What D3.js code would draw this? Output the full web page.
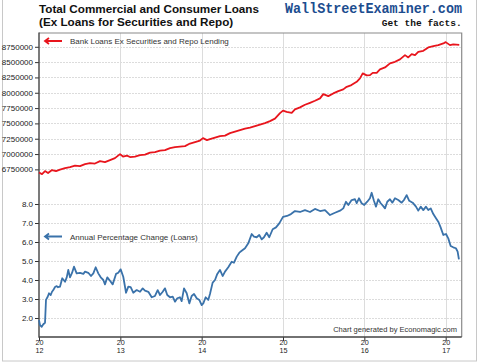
<!DOCTYPE html>
<html>
<head>
<meta charset="utf-8">
<script src="https://cdn.jsdelivr.net/npm/d3@7"></script>
<style>
  body { margin: 0; background: #fff; }
  svg { display: block; font-family: "Liberation Sans", Arial, sans-serif; }
</style>
</head>
<body>
<div id="chart"></div>
<script>
// loans, weekly-ish readings (decimal year, dollars in millions)
const loanYears = [2012.000, 2012.037, 2012.074, 2012.111, 2012.160, 2012.209, 2012.258, 2012.320, 2012.381, 2012.443,
  2012.504, 2012.566, 2012.627, 2012.688, 2012.750, 2012.811, 2012.873, 2012.934, 2012.996, 2013.033,
  2013.082, 2013.119, 2013.180, 2013.242, 2013.303, 2013.365, 2013.426, 2013.488, 2013.549, 2013.611,
  2013.672, 2013.733, 2013.795, 2013.856, 2013.918, 2013.979, 2014.016, 2014.065, 2014.102, 2014.164,
  2014.225, 2014.287, 2014.348, 2014.410, 2014.471, 2014.533, 2014.594, 2014.656, 2014.717, 2014.778,
  2014.840, 2014.901, 2014.963, 2015.000, 2015.045, 2015.107, 2015.147, 2015.209, 2015.270, 2015.332,
  2015.393, 2015.455, 2015.495, 2015.557, 2015.618, 2015.680, 2015.741, 2015.783, 2015.841, 2015.906,
  2015.946, 2015.980, 2016.029, 2016.069, 2016.103, 2016.152, 2016.192, 2016.254, 2016.315, 2016.377,
  2016.438, 2016.500, 2016.540, 2016.582, 2016.623, 2016.663, 2016.725, 2016.786, 2016.848, 2016.909,
  2016.971, 2017.000, 2017.053, 2017.093, 2017.167]
const loanValues = [6698000, 6673000, 6722000, 6690000, 6739000, 6722000, 6747000, 6771000, 6788000, 6812000,
  6804000, 6836000, 6853000, 6845000, 6885000, 6869000, 6902000, 6934000, 6999000, 6959000,
  6975000, 6951000, 6959000, 6983000, 6991000, 7024000, 7032000, 7057000, 7065000, 7097000,
  7114000, 7122000, 7130000, 7171000, 7195000, 7220000, 7260000, 7228000, 7244000, 7269000,
  7293000, 7301000, 7342000, 7366000, 7391000, 7415000, 7432000, 7456000, 7481000, 7505000,
  7538000, 7578000, 7668000, 7709000, 7689000, 7673000, 7728000, 7761000, 7804000, 7836000,
  7869000, 7908000, 7978000, 7945000, 7989000, 8027000, 8055000, 8097000, 8125000, 8179000,
  8234000, 8316000, 8283000, 8288000, 8325000, 8325000, 8381000, 8413000, 8479000, 8505000,
  8544000, 8614000, 8577000, 8630000, 8614000, 8668000, 8684000, 8740000, 8761000, 8777000,
  8805000, 8826000, 8777000, 8788000, 8782000]

// annual % change
const pctYears = [2012.000, 2012.012, 2012.033, 2012.053, 2012.074, 2012.086, 2012.107, 2012.123, 2012.144, 2012.160,
  2012.176, 2012.197, 2012.218, 2012.234, 2012.258, 2012.286, 2012.320, 2012.341, 2012.360, 2012.381,
  2012.406, 2012.430, 2012.463, 2012.504, 2012.545, 2012.566, 2012.606, 2012.639, 2012.668, 2012.697,
  2012.729, 2012.759, 2012.791, 2012.811, 2012.840, 2012.873, 2012.906, 2012.947, 2012.975, 2013.004,
  2013.036, 2013.070, 2013.098, 2013.127, 2013.159, 2013.201, 2013.242, 2013.275, 2013.303, 2013.344,
  2013.386, 2013.426, 2013.459, 2013.488, 2013.521, 2013.549, 2013.577, 2013.611, 2013.644, 2013.672,
  2013.700, 2013.733, 2013.754, 2013.783, 2013.816, 2013.848, 2013.877, 2013.906, 2013.939, 2013.971,
  2014.000, 2014.020, 2014.049, 2014.081, 2014.102, 2014.135, 2014.164, 2014.192, 2014.225, 2014.258,
  2014.287, 2014.327, 2014.369, 2014.397, 2014.431, 2014.463, 2014.492, 2014.533, 2014.573, 2014.615,
  2014.643, 2014.676, 2014.708, 2014.738, 2014.766, 2014.799, 2014.831, 2014.873, 2014.914, 2014.954,
  2015.000, 2015.049, 2015.098, 2015.147, 2015.209, 2015.270, 2015.332, 2015.393, 2015.455, 2015.516,
  2015.578, 2015.639, 2015.701, 2015.741, 2015.774, 2015.803, 2015.844, 2015.885, 2015.906, 2015.934,
  2015.967, 2015.999, 2016.036, 2016.069, 2016.090, 2016.118, 2016.143, 2016.171, 2016.201, 2016.233,
  2016.254, 2016.282, 2016.315, 2016.344, 2016.377, 2016.417, 2016.459, 2016.487, 2016.520, 2016.552,
  2016.594, 2016.635, 2016.663, 2016.693, 2016.725, 2016.758, 2016.786, 2016.816, 2016.848, 2016.881,
  2016.909, 2016.938, 2016.971, 2017.004, 2017.032, 2017.061, 2017.093, 2017.126, 2017.147, 2017.163]
const pctValues = [1.89, 1.63, 1.54, 1.67, 1.75, 2.95, 3.12, 3.30, 3.21, 3.38,
  3.47, 3.63, 3.68, 3.62, 3.65, 4.09, 3.91, 4.14, 4.53, 4.14,
  4.37, 4.70, 4.35, 4.38, 4.32, 4.44, 4.38, 4.21, 4.35, 4.67,
  4.35, 4.14, 4.00, 3.77, 4.14, 3.96, 3.77, 4.32, 4.38, 4.56,
  4.17, 3.33, 3.65, 3.62, 3.33, 3.47, 3.38, 3.56, 3.44, 3.38,
  3.09, 3.16, 3.47, 3.21, 3.38, 3.56, 3.21, 3.09, 3.12, 2.86,
  3.04, 3.09, 2.89, 3.56, 3.30, 2.77, 3.16, 3.26, 3.04, 2.95,
  2.68, 2.77, 3.09, 2.95, 3.26, 3.86, 4.00, 4.32, 4.53, 4.21,
  4.44, 4.67, 4.96, 4.91, 5.23, 5.44, 5.54, 5.67, 5.93, 6.42,
  6.28, 6.25, 6.37, 6.14, 6.25, 6.49, 6.25, 6.67, 6.77, 6.98,
  7.32, 7.37, 7.47, 7.63, 7.58, 7.68, 7.58, 7.74, 7.63, 7.68,
  7.42, 7.54, 7.65, 7.77, 8.12, 7.95, 8.21, 8.25, 8.04, 8.30,
  8.04, 7.95, 8.12, 8.30, 8.59, 8.17, 7.86, 8.25, 8.04, 7.89,
  7.77, 8.12, 8.25, 8.07, 8.30, 8.21, 8.07, 8.21, 8.47, 8.17,
  8.07, 7.86, 7.65, 7.86, 7.68, 7.86, 7.68, 7.77, 7.47, 7.25,
  7.07, 6.77, 6.37, 6.42, 6.19, 5.79, 5.72, 5.67, 5.49, 5.09]

const yearTicks = [2012, 2013, 2014, 2015, 2016, 2017]
const loanTicks = [6750000, 7000000, 7250000, 7500000, 7750000, 8000000, 8250000, 8500000, 8750000]
const pctTicks = [2, 3, 4, 5, 6, 7, 8]

const width = 480, height = 362
const plot = { left: 39, right: 461.7, top: 33, mid: 185, bottom: 337 }

const svg = d3.select("#chart").append("svg")
    .attr("width", width)
    .attr("height", height)

// outer frame
svg.append("rect")
    .attr("x", 2.5).attr("y", -1)
    .attr("width", 474).attr("height", 362)
    .attr("fill", "none").attr("stroke", "#c8c8c8")

const x = d3.scaleLinear()
    .domain([2012, 2017.197])
    .range([plot.left, plot.right])

const yLoan = d3.scaleLinear()
    .domain([6495000, 8975000])
    .range([plot.mid, plot.top])

const yPct = d3.scaleLinear()
    .domain([1, 9])
    .range([plot.bottom, plot.mid])

const grid = svg.append("g").attr("stroke", "#dcdcdc").attr("stroke-width", 1)

grid.selectAll(".vg").data(yearTicks.slice(1)).enter()
    .append("line")
    .attr("x1", d => Math.round(x(d)) + 0.5).attr("x2", d => Math.round(x(d)) + 0.5)
    .attr("y1", plot.top).attr("y2", plot.bottom)

grid.selectAll(".hl").data(loanTicks).enter()
    .append("line")
    .attr("x1", plot.left).attr("x2", plot.right)
    .attr("y1", d => Math.round(yLoan(d)) + 0.5).attr("y2", d => Math.round(yLoan(d)) + 0.5)
    .attr("stroke-dasharray", "2,1")

grid.selectAll(".hp").data(pctTicks).enter()
    .append("line")
    .attr("x1", plot.left).attr("x2", plot.right)
    .attr("y1", d => Math.round(yPct(d)) + 0.5).attr("y2", d => Math.round(yPct(d)) + 0.5)
    .attr("stroke-dasharray", "2,1")

// frame: top/right lighter, left/bottom dark
svg.append("path")
    .attr("d", `M${plot.left},${plot.top}H${plot.right}V${plot.bottom}`)
    .attr("fill", "none").attr("stroke", "#8a8a8a").attr("stroke-width", 1.2)

const axisStyle = g => {
    g.select(".domain").remove()
    g.selectAll("text").attr("font-size", "8px").attr("fill", "#222")
        .attr("font-family", "Liberation Sans, Arial, sans-serif")
    g.selectAll("line").attr("stroke", "#333")
}

svg.append("g")
    .attr("transform", `translate(${plot.left},0)`)
    .call(d3.axisLeft(yLoan).tickValues(loanTicks).tickSize(4).tickPadding(2).tickFormat(d3.format("d")))
    .call(axisStyle)

svg.append("g")
    .attr("transform", `translate(${plot.left},0)`)
    .call(d3.axisLeft(yPct).tickValues(pctTicks).tickSize(4).tickPadding(2).tickFormat(d3.format(".1f")))
    .call(axisStyle)

const xAxis = svg.append("g")
    .attr("transform", `translate(0,${plot.bottom})`)
    .call(d3.axisBottom(x).tickValues(yearTicks).tickSize(4).tickFormat(""))
    .call(axisStyle)

// two-line year labels: "20" over "12"
xAxis.selectAll(".tick").each(function (d) {
    const t = d3.select(this)
    t.append("text").attr("y", 7.8).text("20")
    t.append("text").attr("y", 15.6).text(String(d).slice(2))
})
xAxis.selectAll(".tick text")
    .attr("font-size", "7.2px").attr("fill", "#222")
    .attr("text-anchor", "middle")

svg.append("path")
    .attr("d", `M${plot.left},${plot.top - 0.5}V${plot.bottom}H${plot.right}`)
    .attr("fill", "none").attr("stroke", "#444").attr("stroke-width", 1.4)

// series
const loanLine = d3.line()
    .x((d, i) => x(loanYears[i]))
    .y(d => yLoan(d))

const pctLine = d3.line()
    .x((d, i) => x(pctYears[i]))
    .y(d => yPct(d))

svg.append("path")
    .attr("d", loanLine(loanValues))
    .attr("fill", "none").attr("stroke", "#e8151d").attr("stroke-width", 1.8)
    .attr("stroke-linejoin", "round")

svg.append("path")
    .attr("d", pctLine(pctValues))
    .attr("fill", "none").attr("stroke", "#3a72aa").attr("stroke-width", 1.8)
    .attr("stroke-linejoin", "round")

// legends
const legend = (y, color, label) => {
    svg.append("path")
        .attr("d", `M45,${y}H62M49,${y - 3}L45,${y}L49,${y + 3}`)
        .attr("fill", "none").attr("stroke", color).attr("stroke-width", 1.8)
    svg.append("text")
        .attr("x", 70).attr("y", y + 3)
        .attr("font-size", "8px").attr("fill", "#333")
        .text(label)
}
legend(41, "#e8151d", "Bank Loans Ex Securities and Repo Lending")
legend(236.5, "#3a72aa", "Annual Percentage Change (Loans)")

svg.append("text")
    .attr("x", 457).attr("y", 332)
    .attr("text-anchor", "end")
    .attr("font-size", "7.5px").attr("fill", "#333")
    .text("Chart generated by Economagic.com")

// titles
svg.append("text")
    .attr("x", 39).attr("y", 13)
    .attr("font-size", "11.7px").attr("font-weight", "bold").attr("fill", "#111")
    .text("Total Commercial and Consumer Loans")

svg.append("text")
    .attr("x", 39).attr("y", 25.5)
    .attr("font-size", "11.7px").attr("font-weight", "bold").attr("fill", "#111")
    .text("(Ex Loans for Securities and Repo)")

svg.append("text")
    .attr("x", 285).attr("y", 13.3)
    .attr("font-family", "Liberation Mono, Courier New, monospace")
    .attr("font-size", "14px").attr("font-weight", "bold").attr("fill", "#1c4d8f")
    .attr("textLength", 177).attr("lengthAdjust", "spacingAndGlyphs")
    .text("WallStreetExaminer.com")

svg.append("text")
    .attr("x", 381.7).attr("y", 26)
    .attr("font-family", "Liberation Mono, Courier New, monospace")
    .attr("font-size", "9.5px").attr("font-weight", "bold").attr("fill", "#111")
    .attr("textLength", 80).attr("lengthAdjust", "spacingAndGlyphs")
    .text("Get the facts.")
</script>
</body>
</html>
